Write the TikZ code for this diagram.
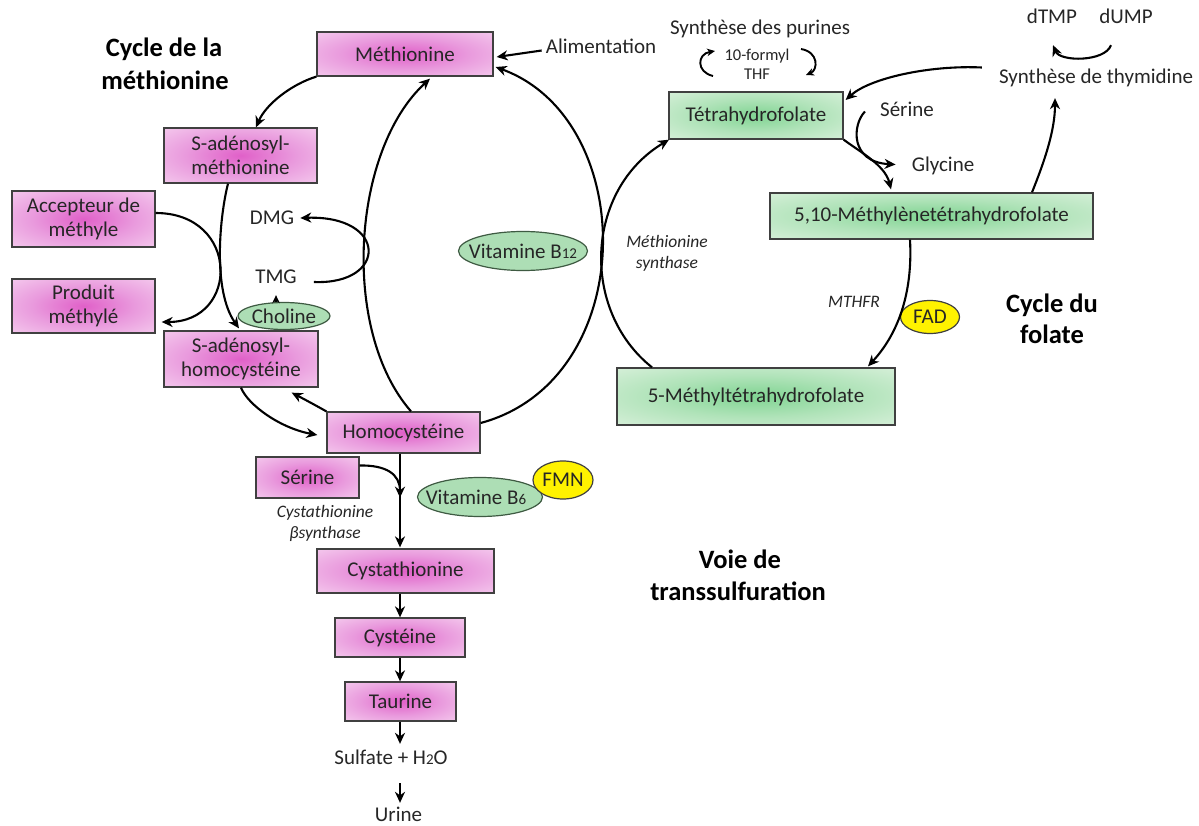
\documentclass[tikz,border=0pt]{standalone}
\usepackage{fontspec}
\setmainfont{Carlito}
\usetikzlibrary{arrows.meta,shapes.geometric}
\definecolor{pinkC}{HTML}{E060C8}
\definecolor{pinkM}{HTML}{E99ADD}
\definecolor{pinkE}{HTML}{F9DDF4}
\definecolor{greenC}{HTML}{80D492}
\definecolor{greenM}{HTML}{B0E3B9}
\definecolor{greenE}{HTML}{E7F5E7}
\definecolor{vitfill}{HTML}{ADDEB5}
\definecolor{vitline}{HTML}{3E5A42}
\definecolor{boxline}{HTML}{404040}
\definecolor{txt}{HTML}{262626}
\definecolor{ylw}{HTML}{FFF200}
\pgfdeclareradialshading{pinkglow}{\pgfpoint{0bp}{0bp}}{color(0bp)=(pinkC); color(18bp)=(pinkM); color(44bp)=(pinkE); color(50bp)=(pinkE)}
\pgfdeclareradialshading{greenglow}{\pgfpoint{0bp}{0bp}}{color(0bp)=(greenC); color(18bp)=(greenM); color(44bp)=(greenE); color(50bp)=(greenE)}
\newcommand\labfont{\fontsize{21}{24}\selectfont}
\newcommand\itlabfont{\fontsize{17.5}{21}\selectfont\itshape}
\newcommand\smlabfont{\fontsize{16.5}{19}\selectfont}
\newcommand\titfont{\fontsize{26.5}{32}\selectfont\bfseries}
\newcommand\subdig[1]{{\fontsize{15}{15}\selectfont #1}}
\tikzset{
  pbox/.style={draw=boxline, line width=1.3pt, shade, shading=pinkglow, align=center, inner sep=0pt, font=\labfont, text=txt},
  gbox/.style={draw=boxline, line width=1.3pt, shade, shading=greenglow, align=center, inner sep=0pt, font=\labfont, text=txt},
  vit/.style={ellipse, draw=vitline, line width=1.2pt, fill=vitfill, inner sep=0pt},
  coenz/.style={ellipse, draw=boxline, line width=1.2pt, fill=ylw, inner sep=0pt},
  inlab/.style={font=\labfont, text=txt, inner sep=0pt},
  tx/.style={font=\labfont, text=txt, inner sep=0pt, text height=14.7pt, text depth=4.2pt},
  smtx/.style={font=\smlabfont, text=txt, inner sep=0pt, align=center},
  ittx/.style={font=\itlabfont, text=txt, inner sep=0pt, align=center},
  titl/.style={font=\titfont, text=black, inner sep=0pt, text height=18.5pt, text depth=5.3pt},
  arr/.style={-{Stealth[length=11pt,width=10pt,inset=3.5pt]}, line width=2.1pt, black},
  sarr/.style={-{Stealth[length=8pt,width=7.5pt,inset=2.5pt]}, line width=1.9pt, black},
}
\begin{document}
\begin{tikzpicture}[x=1pt,y=-1pt]
\useasboundingbox[fill=white] (0,0) rectangle (1199,826);

% ---- boxes ----
\node[pbox, minimum width=176pt, minimum height=44pt] (meth) at (405,54) {Méthionine};
\node[pbox, minimum width=153pt, minimum height=55pt] (sam) at (240.5,155.5) {S-adénosyl-\\méthionine};
\node[pbox, minimum width=143pt, minimum height=56pt] (acc) at (83.5,219) {Accepteur de\\méthyle};
\node[pbox, minimum width=143pt, minimum height=54pt] (prod) at (83.5,306) {Produit\\méthylé};
\node[pbox, minimum width=154pt, minimum height=56pt] (sah) at (241,359) {S-adénosyl-\\homocystéine};
\node[pbox, minimum width=153pt, minimum height=41pt] (hcy) at (403.5,432.5) {Homocystéine};
\node[pbox, minimum width=103pt, minimum height=41pt] (ser) at (307.5,477.5) {Sérine};
\node[pbox, minimum width=177pt, minimum height=44pt] (cysta) at (405.5,571) {Cystathionine};
\node[pbox, minimum width=130pt, minimum height=39pt] (cys) at (400,637.5) {Cystéine};
\node[pbox, minimum width=111pt, minimum height=39pt] (taur) at (400.5,701.5) {Taurine};
\node[gbox, minimum width=174pt, minimum height=47pt] (thf) at (756,115.5) {Tétrahydrofolate};
\node[gbox, minimum width=323pt, minimum height=46pt] (mthf) at (931.5,216) {5,10-Méthylènetétrahydrofolate};
\node[gbox, minimum width=278pt, minimum height=57pt] (mthf5) at (756,396.5) {5-Méthyltétrahydrofolate};

% ---- ellipses ----
\node[vit, minimum width=129pt, minimum height=39pt, label={[inlab]center:Vitamine B\subdig{12}}] (b12) at (523,251) {};
\node[vit, minimum width=92pt, minimum height=27pt, label={[inlab]center:Choline}] (chol) at (284,316) {};
\node[vit, minimum width=125pt, minimum height=39pt, label={[inlab,xshift=-4pt]center:Vitamine B\subdig{6}}] (b6) at (480,497) {};
\node[coenz, minimum width=60pt, minimum height=38pt, label={[inlab]center:FMN}] (fmn) at (563,480) {};
\node[coenz, minimum width=59pt, minimum height=33pt, label={[inlab]center:FAD}] (fad) at (930,317) {};

% ---- free texts ----
\node[titl] (t1a) at (164,49.5) {Cycle de la};
\node[titl] (t1b) at (165,82.5) {méthionine};
\node[titl] (t2a) at (1052,305.5) {Cycle du};
\node[titl] (t2b) at (1052,337) {folate};
\node[titl] (t3a) at (740,562) {Voie de};
\node[titl] (t3b) at (738,594) {transsulfuration};

\node[tx] (alim) at (601,48.5) {Alimentation};
\node[tx] (pur) at (760,29.5) {Synthèse des purines};
\node[smtx] (fthf) at (757,64) {10-formyl\\THF};
\node[tx] (dtmp) at (1052,18.5) {dTMP};
\node[tx] (dump) at (1126,18.5) {dUMP};
\node[tx] (thy) at (1096,78.5) {Synthèse de thymidine};
\node[tx] (serf) at (907,111.5) {Sérine};
\node[tx] (gly) at (943,166.5) {Glycine};
\node[tx] (dmg) at (272,219.5) {DMG};
\node[tx] (tmg) at (276,278.5) {TMG};
\node[tx] (sulf) at (391,759.5) {Sulfate + H\subdig{2}O};
\node[tx] (urine) at (398.5,816.5) {Urine};
\node[ittx] (ms) at (667,253) {Méthionine\\synthase};
\node[ittx] (mthfr) at (854,302) {MTHFR};
\node[ittx] (cbs) at (325,523) {Cystathionine\\βsynthase};

% ---- methionine cycle ----
\draw[arr] (meth.south west) .. controls (292,84) and (266,104) .. ([shift={(15.5,0)}]sam.north);
\draw[arr] ([shift={(-12.5,0)}]sam.south) .. controls (220,215) and (212,290) .. ([shift={(-2,-2)}]sah.north);
\draw[arr] ([shift={(0,-6)}]acc.east) .. controls (240,213) and (240,322) .. ([shift={(6,16)}]prod.east);
\draw[arr] (sah.south) .. controls (248,405) and (280,428) .. ([shift={(-9,2.5)}]hcy.west);
\draw[arr] (hcy.north west) .. controls (315,405) and (302,398) .. ([shift={(-27,5)}]sah.south east);
\draw[arr] ([shift={(7.5,0)}]hcy.north) .. controls (340,330) and (352,150) .. ([shift={(25,2)}]meth.south);
\draw[arr] ([shift={(0,-9.5)}]hcy.east) .. controls (640,380) and (640,120) .. ([shift={(2,13)}]meth.east);
\draw[arr] ([shift={(-4,2)}]alim.west) -- ([shift={(3,3)}]meth.east);
\draw[arr] ([shift={(17,3.5)}]tmg.east) .. controls (388,285) and (388,215) .. ([shift={(6,-1.5)}]dmg.east);
\draw[sarr] ([shift={(-8,0)}]chol.north) -- ([shift={(0,7)}]tmg.south);

% ---- folate cycle ----
\draw[arr] ([shift={(-104,0)}]mthf5.north) .. controls (580,310) and (585,190) .. ([shift={(-87,0)}]thf.south);
\draw[arr] (thf.south east) .. controls (860,152) and (885,165) .. ([shift={(-40.5,-3)}]mthf.north);
\draw[arr] ([shift={(-15,0)}]serf.west) .. controls (852,125) and (850,162) .. ([shift={(-16,-2)}]gly.west);
\draw[arr] ([shift={(-17,-11)}]thy.west) .. controls (930,65) and (870,78) .. ([shift={(2,-15.5)}]thf.east);
\draw[arr] ([shift={(100.5,0)}]mthf.north) .. controls (1045,160) and (1055,130) .. ([shift={(-41,10)}]thy.south);
\draw[arr] ([shift={(-15,17)}]dump.south) .. controls (1105,62) and (1060,62) .. ([shift={(1,17)}]dtmp.south);
\draw[arr] ([shift={(-21.5,0)}]mthf.south) .. controls (913,295) and (897,335) .. ([shift={(112,-1)}]mthf5.north);
\coordinate (pl1) at (713,76);
\coordinate (pl2) at (715,51);
\coordinate (pr1) at (801,49);
\coordinate (pr2) at (806,75);
\draw[sarr] (pl1) .. controls (696,72) and (697,54) .. (pl2);
\draw[sarr] (pr1) .. controls (819,52) and (818,70) .. (pr2);

% ---- transsulfuration ----
\draw[arr] ([shift={(-3.5,0)}]hcy.south) -- ([shift={(-5.5,-1)}]cysta.north);
\draw[arr] ([shift={(0,-12)}]ser.east) .. controls (386,465) and (400,474) .. ([shift={(-3.5,44)}]hcy.south);
\draw[arr] ([shift={(-5.5,0)}]cysta.south) -- (cys.north);
\draw[arr] (cys.south) -- ([shift={(-0.5,0)}]taur.north);
\draw[arr] ([shift={(-0.5,0)}]taur.south) -- ([shift={(9,-6)}]sulf.north);
\draw[arr] ([shift={(9,14)}]sulf.south) -- ([shift={(1.5,-4)}]urine.north);
\end{tikzpicture}
\end{document}
